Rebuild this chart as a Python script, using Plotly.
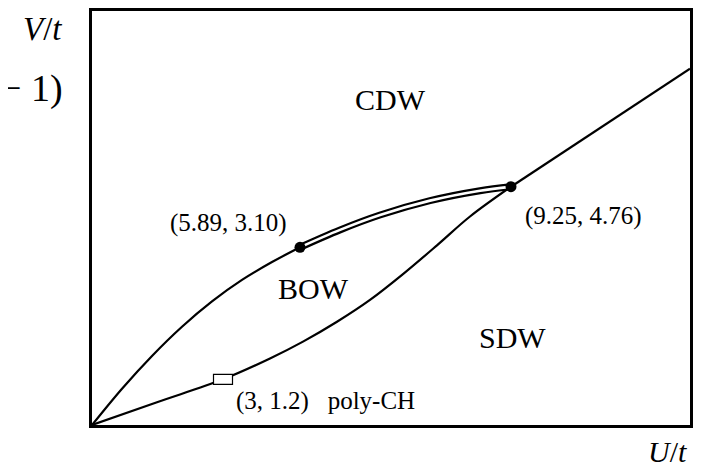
import plotly.graph_objects as go

# Schematic phase diagram coordinates (arbitrary schematic units)
upper_x = [0.0, 3.0, 6.0, 9.0, 12.0, 15.0, 18.0, 20.8]
upper_y = [0.0, 3.66, 6.96, 9.9, 12.45, 14.61, 16.41, 17.9]

double_x = [20.8, 24.8, 28.8, 33.8, 38.8, 41.9]
double_y = [17.9, 19.65, 21.15, 22.6, 23.6, 24.0]

lower_x = [0.0, 6.5, 13.1, 17.8, 21.1, 24.5, 27.8, 31.1, 34.5, 37.8, 41.9]
lower_y = [0.0, 2.3, 4.6, 6.7, 8.4, 10.4, 12.6, 15.2, 18.1, 21.0, 24.0]

straight_x = [41.9, 59.8]
straight_y = [24.0, 35.9]

dot_x = [20.8, 41.9]
dot_y = [17.9, 24.0]

poly_x = [13.1]
poly_y = [4.6]

phase_labels = ["CDW", "BOW", "SDW"]
phase_x = [29.8, 22.1, 42.0]
phase_y = [32.8, 13.7, 8.8]

point_labels = ["(5.89, 3.10)", "(9.25, 4.76)", "(3, 1.2)   poly-CH"]
point_lx = [13.6, 49.1, 23.3]
point_ly = [20.3, 21.1, 2.4]

XMAX, YMAX = 59.8, 41.7
FONT = "Liberation Serif"

fig = go.Figure()
fig.add_trace(go.Scatter(x=upper_x, y=upper_y, mode="lines",
                         line=dict(color="black", width=2.2, shape="spline", smoothing=1.0),
                         hoverinfo="skip"))
fig.add_trace(go.Scatter(x=lower_x, y=lower_y, mode="lines",
                         line=dict(color="black", width=2.2, shape="spline", smoothing=1.0),
                         hoverinfo="skip"))
fig.add_trace(go.Scatter(x=straight_x, y=straight_y, mode="lines",
                         line=dict(color="black", width=2.2), hoverinfo="skip"))
fig.add_trace(go.Scatter(x=double_x, y=double_y, mode="lines",
                         line=dict(color="black", width=7, shape="spline", smoothing=1.0),
                         hoverinfo="skip"))
fig.add_trace(go.Scatter(x=double_x, y=double_y, mode="lines",
                         line=dict(color="white", width=2.6, shape="spline", smoothing=1.0),
                         hoverinfo="skip"))
fig.add_trace(go.Scatter(x=dot_x, y=dot_y, mode="markers",
                         marker=dict(color="black", size=11), hoverinfo="skip"))

for px, py in zip(poly_x, poly_y):
    fig.add_shape(type="rect", xref="x", yref="y", xsizemode="pixel", ysizemode="pixel",
                  xanchor=px, yanchor=py, x0=-9.5, x1=9.5, y0=-5, y1=5,
                  fillcolor="white", line=dict(color="black", width=1.2), layer="above")

for t, x, y in zip(phase_labels, phase_x, phase_y):
    fig.add_annotation(x=x, y=y, text=t, showarrow=False, xanchor="center", yanchor="middle",
                       font=dict(family=FONT, size=30, color="black"))

for t, x, y in zip(point_labels, point_lx, point_ly):
    fig.add_annotation(x=x, y=y, text=t, showarrow=False, xanchor="center", yanchor="middle",
                       font=dict(family=FONT, size=25, color="black"))

# labels outside the frame (paper coordinates)
fig.add_annotation(x=-4.9 / XMAX, y=39.9 / YMAX, xref="paper", yref="paper",
                   text="<i>V</i>/<i>t</i>", showarrow=False,
                   xanchor="center", yanchor="middle", borderpad=0,
                   font=dict(family=FONT, size=33, color="black"))
fig.add_annotation(x=57.5 / XMAX, y=-2.7 / YMAX, xref="paper", yref="paper",
                   text="<i>U</i>/<i>t</i>", showarrow=False,
                   xanchor="center", yanchor="middle", borderpad=0,
                   font=dict(family=FONT, size=30, color="black"))
fig.add_annotation(x=-2.7 / XMAX, y=33.9 / YMAX, xref="paper", yref="paper",
                   text="\u2212 1)", showarrow=False, xanchor="right", yanchor="middle",
                   font=dict(family=FONT, size=38, color="black"))

axis_common = dict(showgrid=False, zeroline=False, showticklabels=False, ticks="",
                   showline=True, linecolor="black", linewidth=2.5, mirror=True)
fig.update_layout(
    width=694, height=465,
    margin=dict(l=84, r=12, t=0, b=48),
    paper_bgcolor="white", plot_bgcolor="white",
    showlegend=False,
    xaxis=dict(range=[0, XMAX], **axis_common),
    yaxis=dict(range=[0, YMAX], **axis_common),
)
fig.write_html("out.html")
